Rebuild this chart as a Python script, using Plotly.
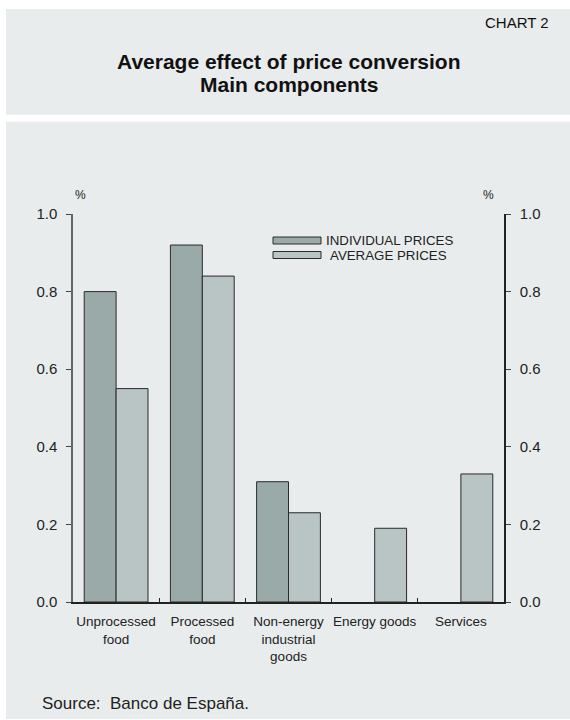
import plotly.graph_objects as go

# ---- data ----
categories = ["Unprocessed<br>food", "Processed<br>food", "Non-energy<br>industrial<br>goods",
              "Energy goods", "Services"]
individual_prices = [0.80, 0.92, 0.31, None, None]
average_prices = [0.55, 0.84, 0.23, 0.19, 0.33]
y_ticks = [0.0, 0.2, 0.4, 0.6, 0.8, 1.0]
y_tick_labels = ["0.0", "0.2", "0.4", "0.6", "0.8", "1.0"]

W, H = 570, 720
L, R, T, B = 73, 504, 214, 602  # plot area in pixels

def px(x):
    return (x - L) / (R - L)

def py(y):
    return (B - y) / (B - T)

BG = "#E9ECED"
DARK = "#9AAAA9"
LIGHT = "#B8C5C4"
FONT = "Liberation Sans, Arial, sans-serif"

fig = go.Figure()
fig.add_trace(go.Bar(x=categories, y=individual_prices, name="INDIVIDUAL PRICES",
                     marker=dict(color=DARK, line=dict(color="#2a2a2a", width=1)),
                     showlegend=False))
fig.add_trace(go.Bar(x=categories, y=average_prices, name="AVERAGE PRICES",
                     marker=dict(color=LIGHT, line=dict(color="#2a2a2a", width=1)),
                     showlegend=False))
fig.add_trace(go.Scatter(x=categories, y=[None] * len(categories), yaxis="y2",
                         mode="markers", showlegend=False, hoverinfo="skip"))

shapes = [
    dict(type="rect", xref="paper", yref="paper", x0=px(6), x1=px(572), y0=py(114.7), y1=py(9),
         fillcolor=BG, line=dict(width=0), layer="below"),
    dict(type="rect", xref="paper", yref="paper", x0=px(6), x1=px(572), y0=py(719), y1=py(121.7),
         fillcolor=BG, line=dict(width=0), layer="below"),
    # legend swatches
    dict(type="rect", xref="paper", yref="paper", x0=px(273), x1=px(321), y0=py(244), y1=py(237),
         fillcolor=DARK, line=dict(color="#2a2a2a", width=1)),
    dict(type="rect", xref="paper", yref="paper", x0=px(273), x1=px(321), y0=py(258.5), y1=py(251.5),
         fillcolor=LIGHT, line=dict(color="#2a2a2a", width=1)),
]

annotations = [
    dict(text="CHART 2", x=px(551), y=py(22.5), xref="paper", yref="paper", xanchor="right",
         yanchor="middle", showarrow=False, font=dict(size=15, color="#111")),
    dict(text="<b>Average effect of price conversion</b>", x=px(289), y=py(61.7), xref="paper",
         yref="paper", xanchor="center", yanchor="middle", showarrow=False,
         font=dict(size=21, color="#111")),
    dict(text="<b>Main components</b>", x=px(289), y=py(84.8), xref="paper",
         yref="paper", xanchor="center", yanchor="middle", showarrow=False,
         font=dict(size=21, color="#111")),
    dict(text="%", x=px(80.5), y=py(195.5), xref="paper", yref="paper", xanchor="center",
         yanchor="middle", showarrow=False, font=dict(size=12, color="#222")),
    dict(text="%", x=px(488), y=py(195.5), xref="paper", yref="paper", xanchor="center",
         yanchor="middle", showarrow=False, font=dict(size=12, color="#222")),
    dict(text="INDIVIDUAL PRICES", x=px(324), y=py(240.5), xref="paper", yref="paper",
         xanchor="left", yanchor="middle", showarrow=False, font=dict(size=13.3, color="#222")),
    dict(text="AVERAGE PRICES", x=px(328), y=py(255), xref="paper", yref="paper",
         xanchor="left", yanchor="middle", showarrow=False, font=dict(size=13.3, color="#222")),
    dict(text="Source:  Banco de España.", x=px(40), y=py(703), xref="paper", yref="paper",
         xanchor="left", yanchor="middle", showarrow=False, font=dict(size=17, color="#222")),
]

fig.update_layout(
    width=W, height=H,
    margin=dict(l=L, r=W - R, t=T, b=H - B, pad=0),
    paper_bgcolor="white",
    plot_bgcolor="rgba(0,0,0,0)",
    font=dict(family=FONT, color="#222"),
    barmode="group", bargap=0.26, bargroupgap=0,
    shapes=shapes, annotations=annotations,
    xaxis=dict(showline=True, linecolor="#222", linewidth=1.5, ticks="inside", ticklen=4,
               tickcolor="#222", tickson="boundaries", showgrid=False, zeroline=False,
               tickangle=0, tickfont=dict(size=13.5, color="#222"), ticklabelstandoff=6),
    yaxis=dict(range=[0, 1], tickvals=y_ticks, ticktext=y_tick_labels, showline=True,
               linecolor="#666", linewidth=1.5, ticks="outside", ticklen=5, tickcolor="#444",
               showgrid=False, zeroline=False, tickfont=dict(size=15, color="#222"),
               ticklabelstandoff=6),
    yaxis2=dict(range=[0, 1], tickvals=y_ticks, ticktext=y_tick_labels, overlaying="y",
                side="right", showline=True, linecolor="#222", linewidth=1.5, ticks="outside",
                ticklen=5, tickcolor="#444", showgrid=False, zeroline=False,
                tickfont=dict(size=15, color="#222"), ticklabelstandoff=6),
)

fig.write_html("out.html", config={"displayModeBar": False},
               post_script="document.body.style.margin='0px';")
